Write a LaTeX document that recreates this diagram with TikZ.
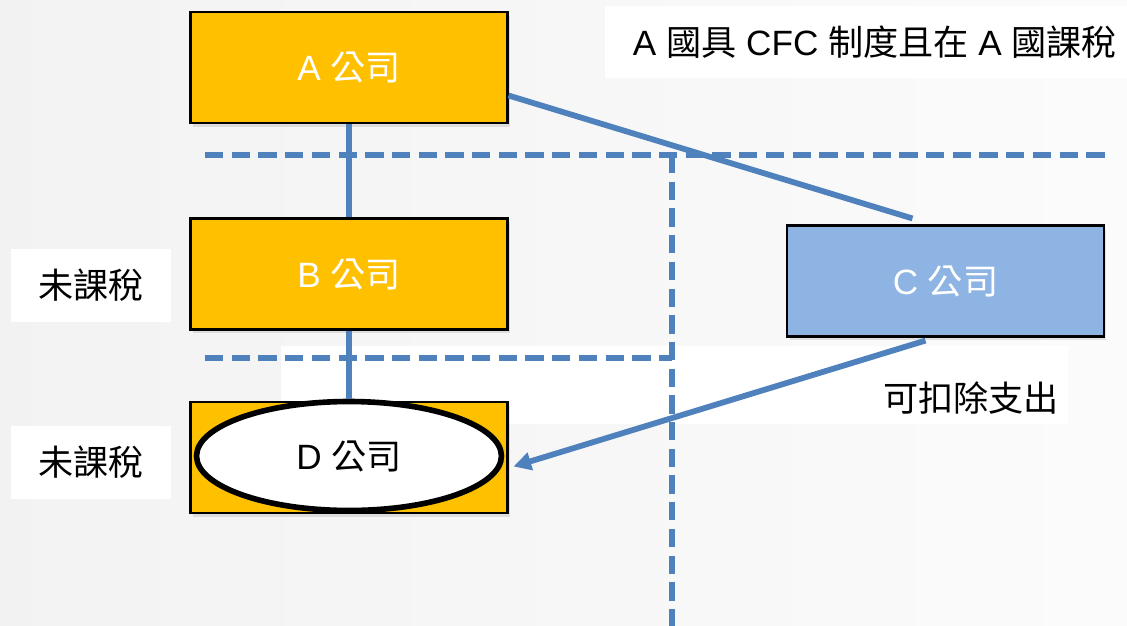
\documentclass[tikz,border=0pt]{standalone}
\usepackage{fontspec}
\setmainfont{Liberation Sans}
\newfontfamily\cjk{Noto Sans CJK TC}
\usetikzlibrary{arrows.meta, calc, shapes.geometric, shadows}
\definecolor{boxorange}{HTML}{FFC000}
\definecolor{boxblue}{HTML}{8EB4E3}
\definecolor{lineblue}{HTML}{4F81BD}
\newcommand{\zh}[1]{{\cjk #1}}
\tikzset{
  company/.style={draw=black, line width=1.2pt, minimum width=6.34cm, minimum height=2.22cm,
    text=white, font=\fontsize{20}{24}\selectfont,
    drop shadow={opacity=0.2, shadow xshift=0.05cm, shadow yshift=-0.08cm}},
  note/.style={fill=white, inner sep=0pt, font=\fontsize{20}{24}\selectfont},
  divider/.style={lineblue, line width=3.4pt, dash pattern=on 10.4pt off 4.8pt},
  link/.style={lineblue, line width=3.3pt},
}
\begin{document}
\begin{tikzpicture}[x=0.02cm, y=-0.02cm]
      \useasboundingbox (0,0) rectangle (1127,626);
      \fill[left color=gray!10, right color=gray!3] (0,0) rectangle (1127,626);

      % white text boxes
      \node[note, minimum width=10.8cm, minimum height=1.44cm] (title) at (875,42)
        {A \zh{國具} CFC \zh{制度且在} A \zh{國課稅}};
      \node[note, minimum width=3.2cm, minimum height=1.46cm] (untaxB) at (91,285.5) {\zh{未課稅}};
      \node[note, minimum width=3.2cm, minimum height=1.46cm] (untaxD) at (91,462.5) {\zh{未課稅}};
      \fill[white] (281,346) rectangle (1068,424);
      \node[note, fill=none] (deduct) at (971,398) {\zh{可扣除支出}};

      % country borders
      \draw[divider] (205,155) -- (1105,155);
      \draw[divider] (672,155) -- (672,626);
      \draw[divider] (205,358) -- (672,358);

      % companies
      \node[company, fill=boxorange] (A) at (349,67.5) {A \zh{公司}};
      \node[company, fill=boxorange] (B) at (349,274) {B \zh{公司}};
      \node[company, fill=boxorange] (D) at (349,457.5) {};
      \node[ellipse, draw=black, line width=3.2pt, fill=white, inner sep=0pt,
        minimum width=6.1cm, minimum height=2.18cm, font=\fontsize{20}{24}\selectfont] (Dname) at (349,456) {D \zh{公司}};
      \node[company, fill=boxblue] (C) at (945.5,281) {C \zh{公司}};

      % ownership and payment
      \draw[link] (A.south) -- (B.north);
      \draw[link] (B.south) -- (Dname.north);
      \draw[link] ($(A.east)+(0,28)$) -- ($(C.north)+(-33,-6)$);
      \draw[link, -{Triangle[length=10pt, width=10pt]}] ($(C.south)+(-20,3)$) -- ($(D.east)+(5,9)$);
    \end{tikzpicture}
\end{document}
